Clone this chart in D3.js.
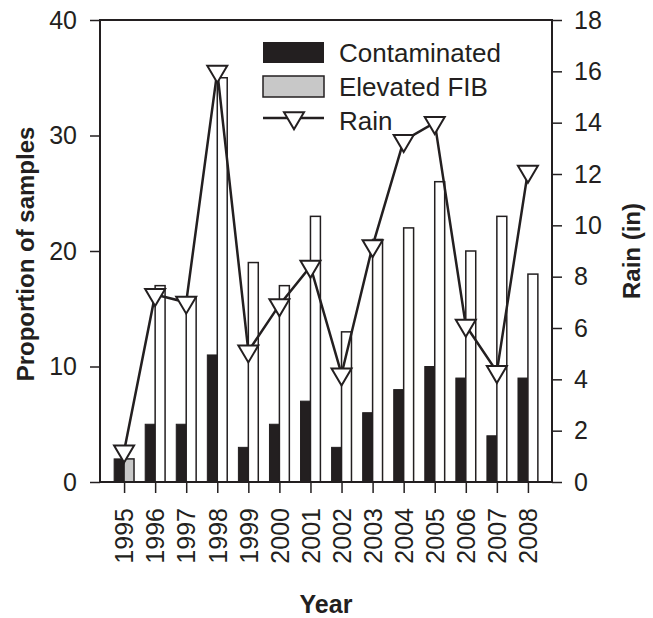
<!DOCTYPE html>
<html lang="en">
<head>
<meta charset="utf-8" />
<title>Contamination and rain</title>
<script src="https://d3js.org/d3.v7.min.js"></script>
<style>
    html, body { margin:0; padding:0; background:#fff; overflow:hidden }
    svg { display:block }
    text { font-family: "Liberation Sans", Arial, sans-serif; fill:#231f20 }
</style>
</head>
<body>
<svg id="svg" width="653" height="618"></svg>
<script>

    // values
    const years = ["1995","1996","1997","1998","1999","2000","2001","2002","2003","2004","2005","2006","2007","2008"];
    const contaminated = [2, 5, 5, 11, 3, 5, 7, 3, 6, 8, 10, 9, 4, 9];
    const elevatedFIB = [2, 17, 16, 35, 19, 17, 23, 13, 21, 22, 26, 20, 23, 18];
    const rain = [1.2, 7.3, 7.0, 16.0, 5.1, 6.9, 8.4, 4.2, 9.2, 13.3, 14.0, 6.1, 4.3, 12.1];
    const leftTicks = [0, 10, 20, 30, 40];
    const rightTicks = [0, 2, 4, 6, 8, 10, 12, 14, 16, 18];

    const ink = "#231f20";
    let mLeft = 100, mRight = 552, mTop = 20, mBottom = 482;

    let svg = d3.select("svg");

    let x = d3.scalePoint()
        .domain(years)
        .range([mLeft, mRight])
        .padding(0.775);
    let barW = x.step() * 0.32;

    let yL = d3.scaleLinear().domain([0, 40]).range([mBottom, mTop]);
    let yR = d3.scaleLinear().domain([0, 18]).range([mBottom, mTop]);

    // bars: contaminated left of the tick, elevated FIB right of it
    svg.append("g").selectAll("rect")
        .data(years)
        .join("rect")
        .attr("x", d => x(d) - barW)
        .attr("y", (d, i) => yL(contaminated[i]))
        .attr("width", barW)
        .attr("height", (d, i) => mBottom - yL(contaminated[i]))
        .attr("fill", ink)
        .attr("stroke", ink)
        .attr("stroke-width", 1);

    svg.append("g").selectAll("rect")
        .data(years)
        .join("rect")
        .attr("x", d => x(d))
        .attr("y", (d, i) => yL(elevatedFIB[i]))
        .attr("width", barW)
        .attr("height", (d, i) => mBottom - yL(elevatedFIB[i]))
        .attr("fill", (d, i) => i == 0 ? "#c8c8c8" : "#fff")
        .attr("stroke", ink)
        .attr("stroke-width", 1.5);

    // rain line
    let line = d3.line()
        .x((d, i) => x(years[i]))
        .y(d => yR(d));
    svg.append("path")
        .attr("d", line(rain))
        .attr("fill", "none")
        .attr("stroke", ink)
        .attr("stroke-width", 2.5);

    // down triangle, centred on its centroid
    let tri = "M-10,-5.7L10,-5.7L0,11.3Z";
    svg.append("g").selectAll("path")
        .data(rain)
        .join("path")
        .attr("d", tri)
        .attr("transform", (d, i) => `translate(${x(years[i])},${yR(d)})`)
        .attr("fill", "#fff")
        .attr("stroke", ink)
        .attr("stroke-width", 2);

    // frame
    svg.append("rect")
        .attr("x", mLeft).attr("y", mTop)
        .attr("width", mRight - mLeft).attr("height", mBottom - mTop)
        .attr("fill", "none")
        .attr("stroke", ink)
        .attr("stroke-width", 2);

    // axes
    let ax = svg.append("g")
        .attr("transform", `translate(0,${mBottom})`)
        .call(d3.axisBottom(x).tickSize(11).tickSizeOuter(0));
    ax.selectAll("text")
        .attr("transform", "rotate(-90)")
        .attr("x", -26)
        .attr("y", 0)
        .attr("dy", "0.35em")
        .attr("text-anchor", "end");

    let ayl = svg.append("g")
        .attr("transform", `translate(${mLeft},0)`)
        .call(d3.axisLeft(yL).tickValues(leftTicks).tickSize(10).tickSizeOuter(0).tickPadding(13));

    let ayr = svg.append("g")
        .attr("transform", `translate(${mRight},0)`)
        .call(d3.axisRight(yR).tickValues(rightTicks).tickSize(10).tickSizeOuter(0).tickPadding(12));

    [ax, ayl, ayr].forEach(a => {
        a.select(".domain").remove();
        a.selectAll("line").attr("stroke", ink).attr("stroke-width", 1.5);
        a.selectAll("text")
            .attr("fill", ink)
            .style("font-size", "25px")
            .style("font-family", '"Liberation Sans", Arial, sans-serif');
    });

    // axis titles
    svg.append("text")
        .attr("transform", `translate(34,${(mTop + mBottom) / 2 + 3}) rotate(-90)`)
        .attr("text-anchor", "middle")
        .style("font-size", "24px")
        .style("font-weight", "bold")
        .text("Proportion of samples");

    svg.append("text")
        .attr("transform", `translate(640,${(mTop + mBottom) / 2}) rotate(-90)`)
        .attr("text-anchor", "middle")
        .style("font-size", "24px")
        .style("font-weight", "bold")
        .text("Rain (in)");

    svg.append("text")
        .attr("x", (mLeft + mRight) / 2)
        .attr("y", 613)
        .attr("text-anchor", "middle")
        .style("font-size", "25px")
        .style("font-weight", "bold")
        .text("Year");

    // legend
    let lg = svg.append("g").attr("transform", "translate(263,42)");
    lg.append("rect").attr("width", 61).attr("height", 21).attr("fill", ink);
    lg.append("rect").attr("y", 34).attr("width", 61).attr("height", 21)
        .attr("fill", "#c8c8c8").attr("stroke", ink).attr("stroke-width", 1.5);
    lg.append("line").attr("x1", 0).attr("x2", 61).attr("y1", 76).attr("y2", 76)
        .attr("stroke", ink).attr("stroke-width", 2.5);
    lg.append("path").attr("d", tri).attr("transform", "translate(31,76)")
        .attr("fill", "#fff").attr("stroke", ink).attr("stroke-width", 2);
    lg.selectAll("text.lab")
        .data(["Contaminated", "Elevated FIB", "Rain"])
        .join("text")
        .attr("class", "lab")
        .attr("x", 76)
        .attr("y", (d, i) => 10.5 + i * 34)
        .attr("dy", "0.36em")
        .style("font-size", "26px")
        .text(d => d);

</script>
</body>
</html>
